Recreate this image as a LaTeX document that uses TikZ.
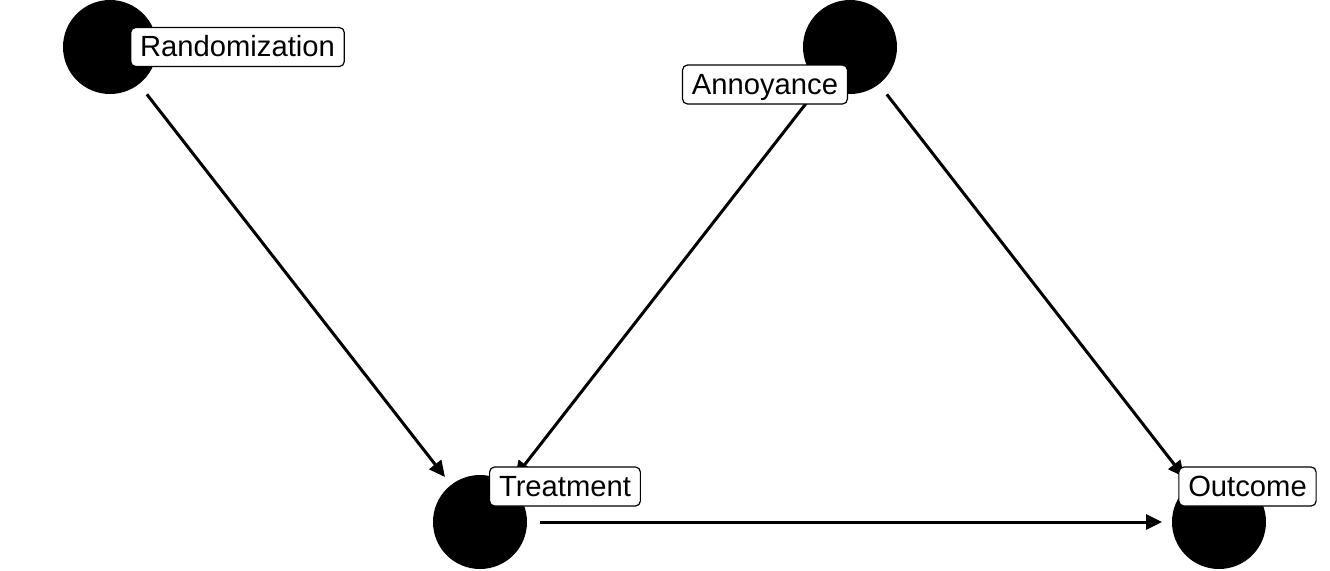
\documentclass[tikz,border=0pt]{standalone}
\usepackage{fontspec}
\setmainfont{Liberation Sans}
\usetikzlibrary{arrows.meta}
\begin{document}
\begin{tikzpicture}[x=0.5pt,y=-0.5pt,
  dot/.style={circle,fill=black,draw=none,minimum size=47pt,inner sep=0pt,outer sep=0pt},
  lab/.style={draw=black,fill=white,line width=0.6pt,rounded corners=2.5pt,
    font=\fontsize{14.6pt}{17pt}\selectfont,inner xsep=4.7pt,inner ysep=0pt,
    minimum height=19.5pt,text height=11.4pt,text depth=1.8pt},
  edge/.style={line width=1.5pt,-{Triangle[length=8pt,width=7.5pt]},
    shorten >=5pt,shorten <=6.5pt}]
\useasboundingbox (0,0) rectangle (1330,570);
\node[dot] (r) at (110,47) {};
\node[dot] (a) at (850,47) {};
\node[dot] (t) at (480,522) {};
\node[dot] (o) at (1219,522) {};
\draw[edge] (r) -- (t);
\draw[edge] (a) -- (t);
\draw[edge] (a) -- (o);
\draw[edge] (t) -- (o);
\node[lab] (rl) at (237.5,47) {Randomization};
\node[lab] (al) at (765,84.5) {Annoyance};
\node[lab] (tl) at (565,486.5) {Treatment};
\node[lab] (ol) at (1247.5,486.5) {Outcome};
\end{tikzpicture}
\end{document}
